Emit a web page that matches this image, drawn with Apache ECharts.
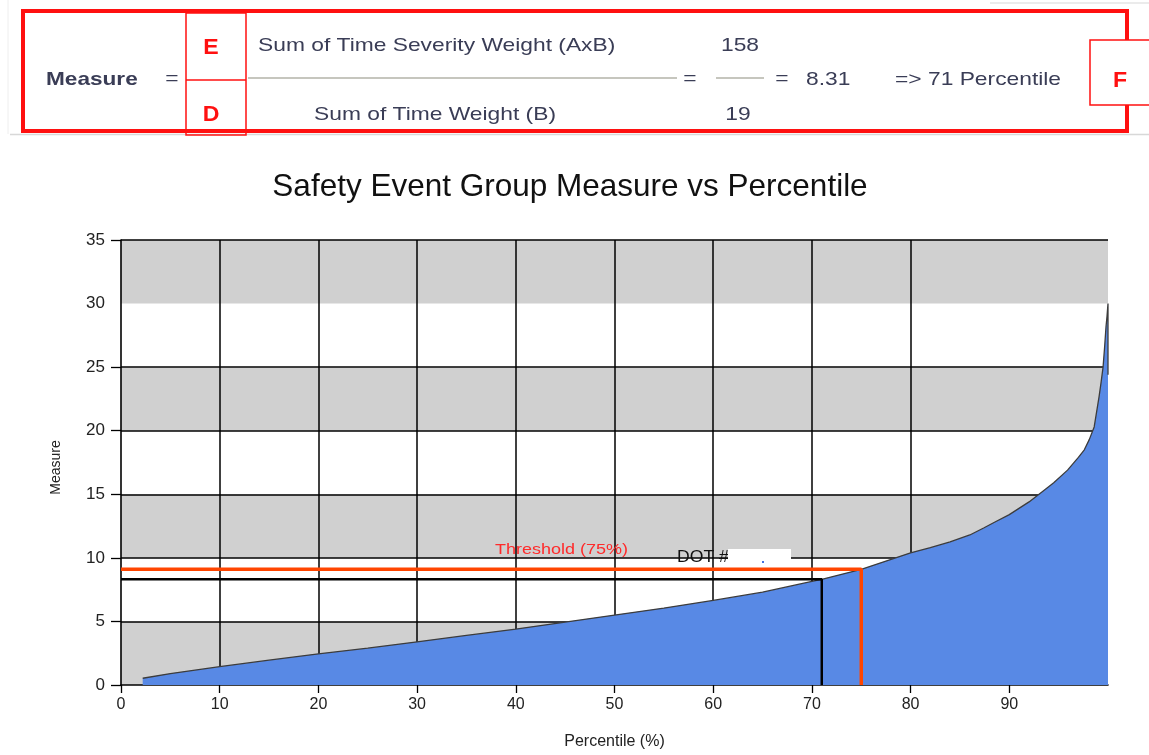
<!DOCTYPE html>
<html><head><meta charset="utf-8">
<script src="https://cdn.jsdelivr.net/npm/echarts@6/dist/echarts.min.js"></script>
<style>html,body{margin:0;padding:0;background:#fff}#c{width:1149px;height:755px}</style>
</head><body><div id="c"></div>
<script>
// ---- data ----
const percentiles = [2.2, 5, 10, 15, 20, 25, 30, 35, 40, 45, 50, 55, 60, 65, 70, 71, 75, 80, 82, 84, 86, 87.4, 88.5, 90, 92, 93.5, 94.5, 95.9, 97, 97.6, 98.1, 98.6, 99.1, 99.3, 99.5, 99.65, 99.8, 99.9, 100, 100];
const measures    = [0.53, 0.9, 1.44, 1.95, 2.45, 2.9, 3.4, 3.9, 4.4, 4.95, 5.5, 6.05, 6.65, 7.3, 8.15, 8.31, 9.1, 10.4, 10.8, 11.25, 11.8, 12.35, 12.8, 13.4, 14.4, 15.3, 15.9, 16.9, 17.9, 18.5, 19.3, 20.3, 22.7, 23.8, 25.0, 26.5, 28.2, 29.0, 30.0, 24.4];
const xTickValues = [0, 10, 20, 30, 40, 50, 60, 70, 80, 90];
const yTickValues = [0, 5, 10, 15, 20, 25, 35];
const yGridValues = [5, 10, 15, 20, 25, 35];
const thresholdPercentile = 75;
const thresholdMeasure = 9.1;
const dotPercentile = 71;
const dotMeasure = 8.31;
const numeratorLabel = 'Sum of Time Severity Weight (AxB)';
const denominatorLabel = 'Sum of Time Weight (B)';
const numeratorValue = 158;
const denominatorValue = 19;
const measureValue = '8.31';

const FONT = "'Liberation Sans', Arial, sans-serif";
const NARROW = "'Liberation Sans Narrow', 'Arial Narrow', 'Liberation Sans', Arial, sans-serif";
const RED = '#FF1010';
const NAVY = '#3A3D56';

const chart = echarts.init(document.getElementById('c'), null, {renderer: 'canvas'});

const curve = percentiles.map((x, i) => [x, measures[i]]);

function txt(x, y, s, opt, sx, z) {
  return Object.assign({type: 'text', x: x, y: y, scaleX: sx || 1.2, silent: true, z: z || 12,
    style: Object.assign({text: s, font: '19px ' + FONT, fill: NAVY, textAlign: 'left', textVerticalAlign: 'middle'}, opt || {})});
}
function ln(x1, y1, x2, y2, color, w) {
  return {type: 'line', silent: true, z: 10, shape: {x1, y1, x2, y2}, style: {stroke: color, lineWidth: w}};
}

const graphics = [
  // page separators
  ln(10, 134.5, 1149, 134.5, '#D8D8D8', 1.5),
  ln(990, 3, 1149, 3, '#E4E4E4', 1.5),
  ln(8, 0, 8, 134, '#EEEEEE', 1),
  // outer red box
  {type: 'rect', silent: true, z: 10, shape: {x: 23, y: 11, width: 1104, height: 120}, style: {fill: 'none', stroke: RED, lineWidth: 4}},
  // E / D box
  {type: 'rect', silent: true, z: 11, shape: {x: 186, y: 13, width: 60, height: 122}, style: {fill: 'none', stroke: RED, lineWidth: 1.5}},
  ln(186, 80, 246, 80, RED, 1.5),
  txt(211, 48, 'E', {font: 'bold 22px ' + FONT, fill: RED, textAlign: 'center'}, 1.05),
  txt(211, 115, 'D', {font: 'bold 22px ' + FONT, fill: RED, textAlign: 'center'}, 1.05),
  // F box
  {type: 'rect', silent: true, z: 11, shape: {x: 1090, y: 40, width: 70, height: 65}, style: {fill: '#fff', stroke: RED, lineWidth: 1.5}},
  txt(1120, 81, 'F', {font: 'bold 22px ' + FONT, fill: RED, textAlign: 'center'}, 1.05, 13),
  // formula
  txt(46, 80, 'Measure', {font: 'bold 19px ' + FONT}, 1.19),
  txt(172, 79, '=', {textAlign: 'center'}),
  txt(258, 46, numeratorLabel, {}),
  ln(248, 78, 677, 78, '#C6C6BE', 2),
  txt(435, 115, denominatorLabel, {textAlign: 'center'}),
  txt(690, 79, '=', {textAlign: 'center'}),
  ln(716, 78, 764, 78, '#C6C6BE', 2),
  txt(740, 46, String(numeratorValue), {textAlign: 'center'}),
  txt(738, 115, String(denominatorValue), {textAlign: 'center'}),
  txt(782, 79, '=', {textAlign: 'center'}),
  txt(806, 80, measureValue, {}),
  txt(895, 80, '=> ' + dotPercentile + ' Percentile', {}),
  // annotations in plot
  txt(495, 550, 'Threshold (' + thresholdPercentile + '%)', {font: '15px ' + FONT, fill: '#FF2A2A'}, 1.2),
  txt(677, 558, 'DOT #', {font: '16px ' + FONT, fill: '#111'}, 1.1),
  {type: 'rect', silent: true, z: 12, shape: {x: 728, y: 549, width: 63, height: 17}, style: {fill: '#fff'}},
  {type: 'rect', silent: true, z: 13, shape: {x: 762, y: 561, width: 2, height: 2}, style: {fill: '#4070E0'}}
];

const option = {
  animation: false,
  backgroundColor: '#fff',
  title: {
    text: 'Safety Event Group Measure vs Percentile',
    left: 565, top: 166, textAlign: 'center',
    textStyle: {fontFamily: FONT, fontSize: 31.5, fontWeight: 'normal', color: '#111'}
  },
  grid: {left: 121, right: 41, top: 240, bottom: 70, containLabel: false},
  xAxis: {
    type: 'value', min: 0, max: 100, interval: 10,
    name: 'Percentile (%)', nameLocation: 'middle', nameGap: 49,
    nameTextStyle: {fontFamily: NARROW, fontSize: 16, color: '#222'},
    axisLine: {show: true, onZero: false, lineStyle: {color: '#000', width: 1.6}},
    axisTick: {show: true, length: 8, customValues: xTickValues, lineStyle: {color: '#000', width: 1.3}},
    axisLabel: {show: true, customValues: xTickValues, margin: 12, fontFamily: NARROW, fontSize: 16, color: '#222'},
    splitLine: {show: true, showMinLine: false, showMaxLine: false, lineStyle: {color: '#000', width: 1.5}}
  },
  yAxis: [
    {
      type: 'value', min: 0, max: 35, interval: 5,
      name: 'Measure', nameLocation: 'middle', nameGap: 58,
      nameTextStyle: {fontFamily: NARROW, fontSize: 14, color: '#222', padding: [0, 0, 0, -10]},
      axisLine: {show: false},
      axisTick: {show: false},
      axisLabel: {show: true, margin: 16, fontFamily: NARROW, fontSize: 17, color: '#222'},
      splitLine: {show: false},
      splitArea: {show: true, areaStyle: {color: ['#D0D0D0', '#FFFFFF']}}
    },
    {
      type: 'value', min: 0, max: 35, interval: 5, position: 'left', offset: 0,
      axisLine: {show: true, lineStyle: {color: '#000', width: 1.6}},
      axisTick: {show: true, length: 10, customValues: yTickValues, lineStyle: {color: '#000', width: 1.3}},
      axisLabel: {show: false},
      splitLine: {show: false},
      splitArea: {show: false}
    }
  ],
  graphic: graphics,
  series: [
    {
      type: 'line', data: [], z: 1, silent: true,
      markLine: {
        silent: true, symbol: 'none', z: 1, animation: false,
        label: {show: false},
        lineStyle: {color: '#000', width: 1.5, type: 'solid'},
        data: yGridValues.map(v => ({yAxis: v}))
      }
    },
    {
      type: 'line', data: curve, z: 2, symbol: 'none', silent: true,
      lineStyle: {color: '#3C3C3C', width: 1.3},
      areaStyle: {color: '#5889E5', opacity: 1}
    },
    {
      type: 'line', z: 3, symbol: 'none', silent: true,
      data: [[0, dotMeasure], [dotPercentile, dotMeasure], [dotPercentile, 0]],
      lineStyle: {color: '#000', width: 2.5}
    },
    {
      type: 'line', z: 4, symbol: 'none', silent: true,
      data: [[0, thresholdMeasure], [thresholdPercentile, thresholdMeasure], [thresholdPercentile, 0]],
      lineStyle: {color: '#FF4500', width: 3.5}
    }
  ]
};
chart.setOption(option);
</script>
</body></html>
